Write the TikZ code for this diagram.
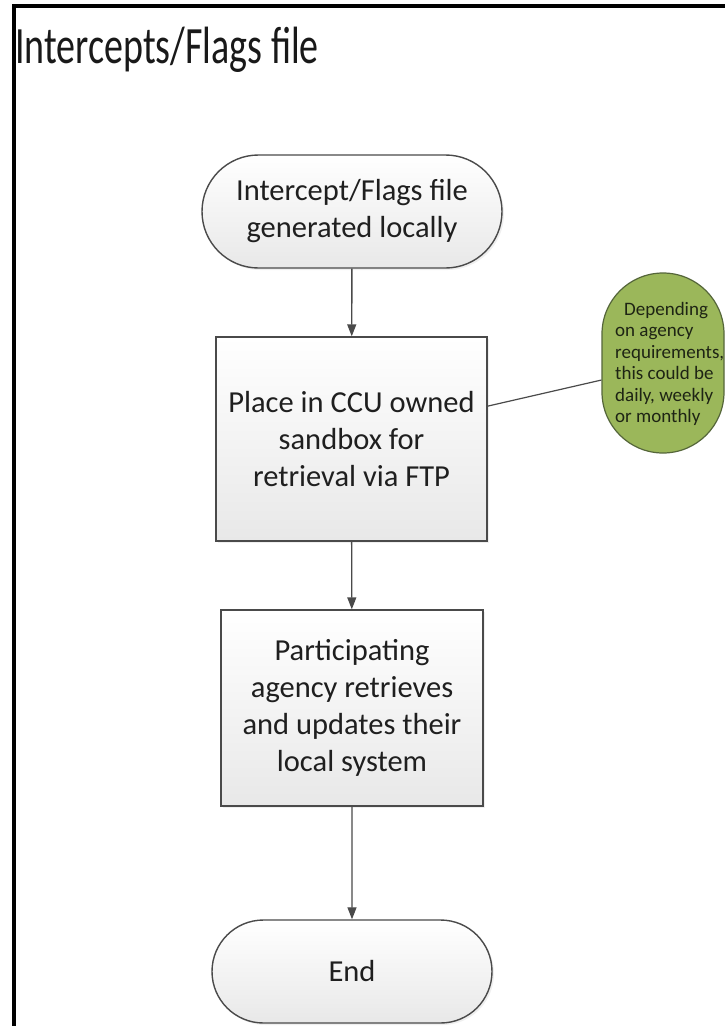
\documentclass[tikz,border=0pt]{standalone}
\usepackage{fontspec}
\setmainfont{Carlito}
\usetikzlibrary{shapes.misc,arrows.meta,calc,shadows}
\definecolor{boxline}{HTML}{4A4A4A}
\definecolor{notefill}{HTML}{9BB75A}
\definecolor{noteline}{HTML}{55663A}
\definecolor{notetext}{HTML}{1E2414}
\tikzset{
  flowtext/.style={font=\fontsize{30.5}{37}\selectfont, text=black!88, align=center},
  flowshade/.style={top color=white, bottom color=black!9, draw=boxline, line width=1.4pt,
    drop shadow={shadow xshift=2pt, shadow yshift=-2pt, opacity=0.12}},
  terminal/.style={flowtext, flowshade, rounded rectangle, rounded rectangle arc length=180, inner sep=0pt},
  process/.style={flowtext, flowshade, rectangle, inner sep=0pt},
  flowarrow/.style={draw=boxline, line width=1.4pt, -{Triangle[length=12pt,width=9pt]}},
  notebox/.style={fill=notefill, draw=noteline, line width=1.2pt, rounded corners=61pt,
    minimum width=122pt, minimum height=180pt, inner sep=0pt},
  notelabel/.style={inner sep=0pt, align=left, font=\fontsize{19}{21.4}\selectfont, text=notetext},
  notelink/.style={draw=boxline, line width=1.2pt}
}
\begin{document}
\begin{tikzpicture}[x=1pt,y=-1pt]
\useasboundingbox (0,0) rectangle (725,1026);
\fill[white] (0,0) rectangle (725,1026);
% frame
\draw[line width=4pt, black] (13.5,1040) -- (13.5,6) -- (740,6);
% title
\node[anchor=base west, inner sep=0pt, font=\fontsize{38}{44}\selectfont, text=black!90] (title) at (15,63) {\scalebox{1}[1.38]{Intercepts/Flags file}};
% flow
\node[terminal, minimum width=300pt, minimum height=113pt] (start) at (352,211.5) {Intercept/Flags file\\generated locally};
\node[process, minimum width=271pt, minimum height=204pt] (place) at (351.5,439) {Place in CCU owned\\sandbox for\\retrieval via FTP};
\node[process, minimum width=262pt, minimum height=196pt] (agency) at (352,708) {Participating\\agency retrieves\\and updates their\\local system};
\node[terminal, minimum width=280pt, minimum height=103pt] (end) at (352,971.5) {End};
% annotation
\node[notebox] (note) at (663,363) {};
\node[notelabel, anchor=west] (notetext) at (615,364) {\hspace*{9pt}Depending\\on agency\\requirements,\\this could be\\daily, weekly\\or monthly};
\coordinate (linkA) at ($(place.north east)!0.34!(place.south east)$);
\coordinate (linkB) at ($(note.north west)!0.594!(note.south west)$);
% connectors
\draw[flowarrow] (start) -- (place);
\draw[flowarrow] (place) -- (agency);
\draw[flowarrow] (agency) -- (end);
\draw[notelink] (linkA) -- (linkB);
\end{tikzpicture}
\end{document}
